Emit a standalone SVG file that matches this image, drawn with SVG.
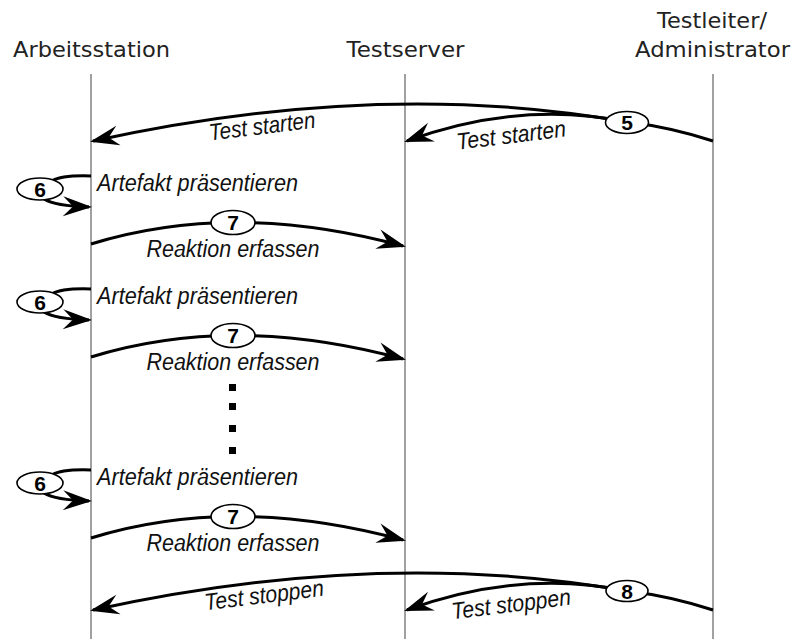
<svg xmlns="http://www.w3.org/2000/svg" width="792" height="639" viewBox="0 0 792 639">
<style>
.hdr{font-family:"DejaVu Sans",sans-serif;font-size:21.5px;fill:#222;text-anchor:middle}
.lbl{font-family:"Liberation Sans",Arial,sans-serif;font-style:italic;font-size:23.5px;fill:#111}
.num{font-family:"Liberation Sans",Arial,sans-serif;font-weight:bold;font-size:21px;fill:#000;text-anchor:middle}
.life{stroke:#8a8a8a;stroke-width:1.6;fill:none}
.con{stroke:#000;stroke-width:3;fill:none}
.arr{stroke:#000;stroke-width:3;fill:none;marker-end:url(#ah)}
.oval{fill:#fff;stroke:#000;stroke-width:1.6}
.dot{fill:#000}
</style>
<defs>
<marker id="ah" markerUnits="userSpaceOnUse" viewBox="-30 -12 34 24" markerWidth="34" markerHeight="24" refX="0" refY="0" orient="auto">
<path d="M3,0 L-26,-10 L-16,0 L-26,10 Z" fill="#000"/>
</marker>
</defs>
<rect width="792" height="639" fill="#fff"/>
<g id="lifelines">
<g id="arbeitsstation">
<text class="hdr" x="91.5" y="57" textLength="157" lengthAdjust="spacingAndGlyphs">Arbeitsstation</text>
<line class="life" x1="91" y1="74" x2="91" y2="639"/>
</g>
<g id="testserver">
<text class="hdr" x="405.5" y="57" textLength="118" lengthAdjust="spacingAndGlyphs">Testserver</text>
<line class="life" x1="405" y1="74" x2="405" y2="639"/>
</g>
<g id="testleiter">
<text class="hdr" x="712" y="28" textLength="110" lengthAdjust="spacingAndGlyphs">Testleiter/</text>
<text class="hdr" x="712.5" y="57" textLength="155" lengthAdjust="spacingAndGlyphs">Administrator</text>
<line class="life" x1="713" y1="74" x2="713" y2="639"/>
</g>
</g>
<g id="connectors">
<g id="msg5">
<path class="con" d="M713,141 Q670,127 627,122"/>
<path class="arr" d="M627,122 Q380,78 93,141"/>
<path class="arr" d="M627,122 Q520,100 407,141"/>
<text class="lbl" x="263" y="134" text-anchor="middle" textLength="107" lengthAdjust="spacingAndGlyphs" transform="rotate(-7 263 134)">Test starten</text>
<text class="lbl" x="512" y="143" text-anchor="middle" textLength="110" lengthAdjust="spacingAndGlyphs" transform="rotate(-7 512 143)">Test starten</text>
</g>
<g id="msg8">
<path class="con" d="M713,610 Q670,596 627,591"/>
<path class="arr" d="M627,591 Q380,547 93,610"/>
<path class="arr" d="M627,591 Q520,569 407,610"/>
<text class="lbl" x="265" y="603" text-anchor="middle" textLength="120" lengthAdjust="spacingAndGlyphs" transform="rotate(-7 265 603)">Test stoppen</text>
<text class="lbl" x="512" y="612" text-anchor="middle" textLength="120" lengthAdjust="spacingAndGlyphs" transform="rotate(-7 512 612)">Test stoppen</text>
</g>
<g id="round1">
<path class="con" d="M91,176 Q62,175 52,181"/>
<path class="arr" d="M44,199 Q55,206 89,207"/>
<text class="lbl" x="97" y="191" textLength="201" lengthAdjust="spacingAndGlyphs">Artefakt präsentieren</text>
<path class="arr" d="M91,244 Q233,200 403,246"/>
<text class="lbl" x="233" y="256.5" text-anchor="middle" textLength="173" lengthAdjust="spacingAndGlyphs">Reaktion erfassen</text>
</g>
<g id="round2" transform="translate(0,113)">
<path class="con" d="M91,176 Q62,175 52,181"/>
<path class="arr" d="M44,199 Q55,206 89,207"/>
<text class="lbl" x="97" y="191" textLength="201" lengthAdjust="spacingAndGlyphs">Artefakt präsentieren</text>
<path class="arr" d="M91,244 Q233,200 403,246"/>
<text class="lbl" x="233" y="256.5" text-anchor="middle" textLength="173" lengthAdjust="spacingAndGlyphs">Reaktion erfassen</text>
</g>
<g id="round3" transform="translate(0,294)">
<path class="con" d="M91,176 Q62,175 52,181"/>
<path class="arr" d="M44,199 Q55,206 89,207"/>
<text class="lbl" x="97" y="191" textLength="201" lengthAdjust="spacingAndGlyphs">Artefakt präsentieren</text>
<path class="arr" d="M91,244 Q233,200 403,246"/>
<text class="lbl" x="233" y="256.5" text-anchor="middle" textLength="173" lengthAdjust="spacingAndGlyphs">Reaktion erfassen</text>
</g>
</g>
<g id="step5"><ellipse class="oval" cx="627" cy="122.5" rx="21.5" ry="11"/><text class="num" x="627" y="130">5</text></g>
<g id="step8"><ellipse class="oval" cx="627" cy="591" rx="21" ry="10.5"/><text class="num" x="627" y="598.5">8</text></g>
<g id="step6a"><ellipse class="oval" cx="40" cy="189" rx="23" ry="11"/><text class="num" x="40" y="196.5">6</text></g>
<g id="step7a"><ellipse class="oval" cx="233" cy="222.5" rx="22" ry="12"/><text class="num" x="233" y="229.5">7</text></g>
<g id="step6b"><ellipse class="oval" cx="40" cy="302" rx="23" ry="11"/><text class="num" x="40" y="309.5">6</text></g>
<g id="step7b"><ellipse class="oval" cx="233" cy="335.5" rx="22" ry="12"/><text class="num" x="233" y="342.5">7</text></g>
<g id="step6c"><ellipse class="oval" cx="40" cy="483" rx="23" ry="11"/><text class="num" x="40" y="490.5">6</text></g>
<g id="step7c"><ellipse class="oval" cx="233" cy="516.5" rx="22" ry="12"/><text class="num" x="233" y="523.5">7</text></g>
<g id="ellipsis">
<rect class="dot" x="229" y="384" width="7" height="7"/>
<rect class="dot" x="229" y="403" width="7" height="7"/>
<rect class="dot" x="229" y="425" width="7" height="7"/>
<rect class="dot" x="229" y="447" width="7" height="7"/>
</g>
</svg>
